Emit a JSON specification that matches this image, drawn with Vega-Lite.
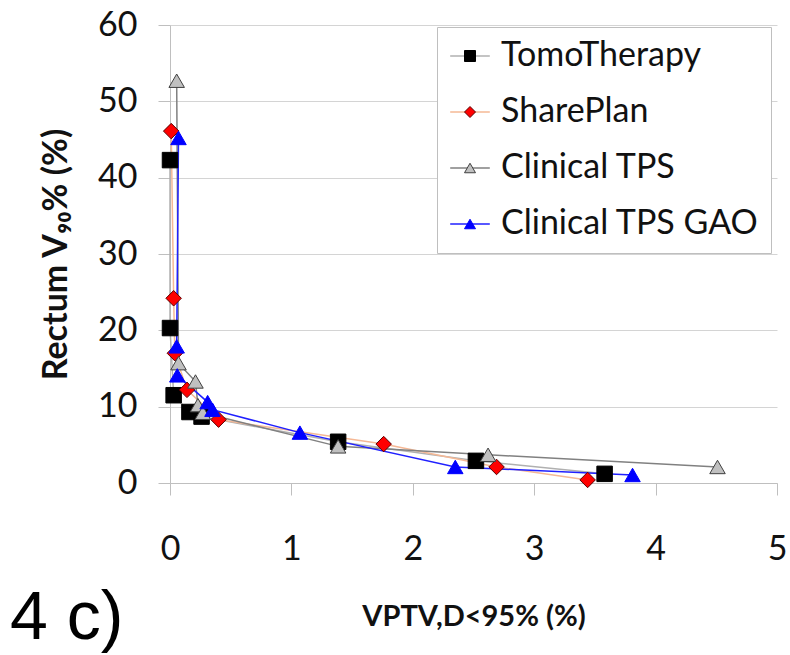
{
  "$schema": "https://vega.github.io/schema/vega-lite/v6.json",
  "width": 607,
  "height": 458,
  "autosize": {"type": "none"},
  "padding": {"left": 170, "top": 25, "right": 13, "bottom": 172},
  "background": "white",
  "config": {"view": {"stroke": null}, "font": "Lato"},
  "title": {"text": "4 c)", "orient": "bottom", "anchor": "start", "frame": "group", "font": "Liberation Sans", "fontSize": 68, "fontWeight": "normal", "color": "#000000", "dx": -160, "dy": -46, "offset": 0},
  "data": {"values": [
    {"series": "TomoTherapy", "x": 0.0, "y": 42.3},
    {"series": "TomoTherapy", "x": 0.0, "y": 20.3},
    {"series": "TomoTherapy", "x": 0.03, "y": 11.5},
    {"series": "TomoTherapy", "x": 0.16, "y": 9.3},
    {"series": "TomoTherapy", "x": 0.26, "y": 8.7},
    {"series": "TomoTherapy", "x": 1.385, "y": 5.4},
    {"series": "TomoTherapy", "x": 2.52, "y": 2.9},
    {"series": "TomoTherapy", "x": 3.58, "y": 1.2},
    {"series": "SharePlan", "x": 0.01, "y": 46.1},
    {"series": "SharePlan", "x": 0.03, "y": 24.2},
    {"series": "SharePlan", "x": 0.04, "y": 17.0},
    {"series": "SharePlan", "x": 0.14, "y": 12.2},
    {"series": "SharePlan", "x": 0.40, "y": 8.3},
    {"series": "SharePlan", "x": 1.76, "y": 5.1},
    {"series": "SharePlan", "x": 2.69, "y": 2.1},
    {"series": "SharePlan", "x": 3.44, "y": 0.4},
    {"series": "Clinical TPS", "x": 0.055, "y": 52.7},
    {"series": "Clinical TPS", "x": 0.07, "y": 15.7},
    {"series": "Clinical TPS", "x": 0.21, "y": 13.3},
    {"series": "Clinical TPS", "x": 0.23, "y": 10.2},
    {"series": "Clinical TPS", "x": 0.27, "y": 9.2},
    {"series": "Clinical TPS", "x": 1.385, "y": 4.8},
    {"series": "Clinical TPS", "x": 2.62, "y": 3.7},
    {"series": "Clinical TPS", "x": 4.51, "y": 2.1},
    {"series": "Clinical TPS GAO", "x": 0.07, "y": 45.2},
    {"series": "Clinical TPS GAO", "x": 0.055, "y": 17.9},
    {"series": "Clinical TPS GAO", "x": 0.06, "y": 14.1},
    {"series": "Clinical TPS GAO", "x": 0.31, "y": 10.6},
    {"series": "Clinical TPS GAO", "x": 0.35, "y": 9.6},
    {"series": "Clinical TPS GAO", "x": 1.07, "y": 6.6},
    {"series": "Clinical TPS GAO", "x": 2.35, "y": 2.1},
    {"series": "Clinical TPS GAO", "x": 3.81, "y": 1.05}
  ]},
  "layer": [
    {
      "mark": {"type": "line", "strokeWidth": 1.5},
      "encoding": {
        "x": {"field": "x", "type": "quantitative", "scale": {"domain": [0, 5], "nice": false, "zero": false},
          "axis": {"values": [0, 1, 2, 3, 4, 5], "format": "d", "grid": false, "tickSize": 12, "tickColor": "#bfbfbf", "domainColor": "#bfbfbf",
            "labelFontSize": 34, "labelFont": "Lato", "labelColor": "#111111", "labelPadding": 37, "labelFlush": false,
            "title": "VPTV,D<95% (%)", "titleFont": "Lato", "titleFontSize": 29, "titleFontWeight": "bold", "titleColor": "#111111", "titlePadding": 36}},
        "y": {"field": "y", "type": "quantitative", "scale": {"domain": [0, 60], "nice": false},
          "axis": {"values": [0, 10, 20, 30, 40, 50, 60], "grid": true, "gridColor": "#d4d4d4", "tickSize": 12, "tickColor": "#bfbfbf", "domainColor": "#bfbfbf",
            "labelFontSize": 34, "labelFont": "Lato", "labelColor": "#111111", "labelPadding": 21, "labelFlush": false,
            "title": "Rectum V₉₀% (%)", "titleFont": "Lato", "titleFontSize": 34, "titleFontWeight": "bold", "titleColor": "#111111", "titlePadding": 24}},
        "color": {"field": "series", "type": "nominal",
          "scale": {"domain": ["TomoTherapy", "SharePlan", "Clinical TPS", "Clinical TPS GAO"], "range": ["#b0b0b0", "#f5b895", "#808080", "#2020ff"]},
          "legend": {"orient": "none", "legendX": 267, "legendY": 2, "title": null, "symbolType": "M-3.6,0H3.6", "symbolSize": 121, "symbolStrokeWidth": 1.5,
            "symbolOffset": 4, "padding": 12, "labelOffset": 14, "labelFontSize": 34, "labelFont": "Lato", "labelColor": "#111111", "labelLimit": 400,
            "rowPadding": 22, "fillColor": "white", "strokeColor": "#bfbfbf"}},
        "order": {"field": "y", "sort": "descending"}
      }
    },
    {
      "mark": {"type": "point", "filled": true, "strokeWidth": 1, "opacity": 1, "size": 240},
      "encoding": {
        "x": {"field": "x", "type": "quantitative"},
        "y": {"field": "y", "type": "quantitative"},
        "shape": {"field": "series", "type": "nominal", "sort": null,
          "scale": {"range": ["square", "diamond", "triangle-up", "triangle-up"]},
          "legend": {"orient": "none", "legendX": 267, "legendY": 2, "title": null, "symbolSize": 121, "symbolStrokeWidth": 1,
            "symbolOffset": 4, "padding": 12, "labelOffset": 14, "labelFontSize": 34, "labelFont": "Lato", "labelOpacity": 0, "labelLimit": 400,
            "rowPadding": 22}},
        "fill": {"field": "series", "type": "nominal", "sort": null,
          "scale": {"range": ["#000000", "#ff0000", "#c0c0c0", "#0000ff"]},
          "legend": {"orient": "none", "legendX": 267, "legendY": 2, "title": null, "symbolSize": 121, "symbolStrokeWidth": 1,
            "symbolOffset": 4, "padding": 12, "labelOffset": 14, "labelFontSize": 34, "labelFont": "Lato", "labelOpacity": 0, "labelLimit": 400,
            "rowPadding": 22}},
        "stroke": {"field": "series", "type": "nominal", "sort": null,
          "scale": {"range": ["#000000", "#5a0000", "#404040", "#0000ff"]},
          "legend": {"orient": "none", "legendX": 267, "legendY": 2, "title": null, "symbolSize": 121, "symbolStrokeWidth": 1,
            "symbolOffset": 4, "padding": 12, "labelOffset": 14, "labelFontSize": 34, "labelFont": "Lato", "labelOpacity": 0, "labelLimit": 400,
            "rowPadding": 22}}
      }
    }
  ]
}
